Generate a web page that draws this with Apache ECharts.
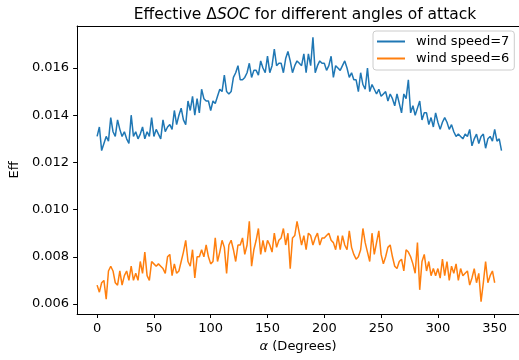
<!DOCTYPE html>
<html>
<head>
<meta charset="utf-8">
<script src="https://cdn.jsdelivr.net/npm/echarts@6/dist/echarts.min.js"></script>
<style>
  html, body { margin: 0; padding: 0; background: #fff; }
  #chart { width: 519px; height: 360px; }
</style>
</head>
<body>
<div id="chart"></div>
<script>
const angleStep = 2;

const windSpeed7 = [
  0.0131, 0.0135, 0.0125, 0.0128, 0.0131, 0.0129, 0.0139, 0.0133, 0.0131, 0.0138,
  0.0134, 0.0131, 0.0133, 0.0130, 0.0128, 0.0140, 0.0131, 0.0133, 0.0130, 0.0132,
  0.0135, 0.0130, 0.0133, 0.0131, 0.0139, 0.0131, 0.0134, 0.0132, 0.0130, 0.0138,
  0.0133, 0.0135, 0.0136, 0.0134, 0.0142, 0.0136, 0.0140, 0.0143, 0.0138, 0.0136,
  0.0146, 0.0142, 0.0148, 0.0140, 0.0147, 0.0141, 0.0151, 0.0147, 0.0146, 0.0146,
  0.0142, 0.0146, 0.0145, 0.0148, 0.0151, 0.0150, 0.0157, 0.0150, 0.0149, 0.0150,
  0.0156, 0.0158, 0.0161, 0.0155, 0.0155, 0.0156, 0.0158, 0.0162, 0.0156, 0.0159,
  0.0159, 0.0157, 0.0163, 0.0160, 0.0158, 0.0165, 0.0158, 0.0161, 0.0168, 0.0161,
  0.0162, 0.0162, 0.0158, 0.0164, 0.0167, 0.0163, 0.0158, 0.0161, 0.0163, 0.0162,
  0.0161, 0.0166, 0.0158, 0.0166, 0.0161, 0.0173, 0.0158, 0.0161, 0.0163, 0.0162,
  0.0162, 0.0159, 0.0161, 0.0165, 0.0156, 0.0161, 0.0160, 0.0159, 0.0161, 0.0163,
  0.0160, 0.0156, 0.0158, 0.0155, 0.0155, 0.0150, 0.0158, 0.0153, 0.0151, 0.0160,
  0.0150, 0.0153, 0.0151, 0.0149, 0.0151, 0.0148, 0.0149, 0.0150, 0.0146, 0.0149,
  0.0147, 0.0144, 0.0149, 0.0145, 0.0141, 0.0149, 0.0147, 0.0155, 0.0141, 0.0144,
  0.0140, 0.0143, 0.0146, 0.0138, 0.0141, 0.0141, 0.0136, 0.0139, 0.0135, 0.0141,
  0.0137, 0.0134, 0.0137, 0.0139, 0.0137, 0.0134, 0.0136, 0.0133, 0.0131, 0.0132,
  0.0131, 0.0130, 0.0132, 0.0131, 0.0134, 0.0127, 0.0130, 0.0132, 0.0128, 0.0131,
  0.0132, 0.0126, 0.0130, 0.0131, 0.0129, 0.0134, 0.0129, 0.0130, 0.0125
];

const windSpeed6 = [
  0.0068, 0.0065, 0.0069, 0.0070, 0.0062, 0.0074, 0.0076, 0.0074, 0.0069, 0.0068,
  0.0074, 0.0068, 0.0072, 0.0074, 0.0070, 0.0076, 0.0070, 0.0073, 0.0070, 0.0078,
  0.0073, 0.0082, 0.0072, 0.0070, 0.0078, 0.0077, 0.0076, 0.0077, 0.0076, 0.0075,
  0.0073, 0.0080, 0.0081, 0.0072, 0.0077, 0.0073, 0.0074, 0.0078, 0.0082, 0.0087,
  0.0078, 0.0076, 0.0083, 0.0071, 0.0080, 0.0080, 0.0083, 0.0080, 0.0085, 0.0080,
  0.0077, 0.0078, 0.0088, 0.0078, 0.0082, 0.0087, 0.0084, 0.0073, 0.0085, 0.0087,
  0.0083, 0.0078, 0.0085, 0.0085, 0.0088, 0.0081, 0.0085, 0.0095, 0.0076, 0.0083,
  0.0087, 0.0092, 0.0081, 0.0087, 0.0082, 0.0087, 0.0085, 0.0082, 0.0090, 0.0084,
  0.0087, 0.0088, 0.0092, 0.0085, 0.0090, 0.0075, 0.0088, 0.0089, 0.0095, 0.0090,
  0.0085, 0.0089, 0.0083, 0.0090, 0.0089, 0.0085, 0.0088, 0.0090, 0.0085, 0.0088,
  0.0088, 0.0089, 0.0090, 0.0087, 0.0086, 0.0083, 0.0089, 0.0083, 0.0089, 0.0085,
  0.0083, 0.0091, 0.0084, 0.0081, 0.0079, 0.0080, 0.0083, 0.0092, 0.0086, 0.0082,
  0.0078, 0.0090, 0.0081, 0.0086, 0.0091, 0.0081, 0.0077, 0.0080, 0.0084, 0.0085,
  0.0080, 0.0076, 0.0075, 0.0078, 0.0079, 0.0074, 0.0083, 0.0082, 0.0080, 0.0077,
  0.0073, 0.0086, 0.0066, 0.0078, 0.0081, 0.0074, 0.0078, 0.0072, 0.0075, 0.0072,
  0.0075, 0.0071, 0.0079, 0.0072, 0.0078, 0.0070, 0.0076, 0.0073, 0.0077, 0.0070,
  0.0075, 0.0072, 0.0073, 0.0074, 0.0068, 0.0071, 0.0075, 0.0069, 0.0073, 0.0061,
  0.0069, 0.0078, 0.0069, 0.0072, 0.0074, 0.0069
];

const xTicks = [0, 50, 100, 150, 200, 250, 300, 350];
const yTicks = [0.006, 0.008, 0.010, 0.012, 0.014, 0.016];

const font = 'DejaVu Sans';

function toPoints(values) {
  return values.map((v, i) => [i * angleStep, v]);
}

const chart = echarts.init(document.getElementById('chart'), null, { renderer: 'canvas' });

chart.setOption({
  animation: false,
  title: {
    text: '{n|Effective Δ}{i|SOC}{n| for different angles of attack}',
    left: 300,
    textAlign: 'center',
    top: 2,
    textStyle: {
      fontWeight: 'normal',
      rich: {
        n: { fontFamily: font, fontSize: 15.5, fontWeight: 'normal', color: '#000' },
        i: { fontFamily: font, fontSize: 15.5, fontWeight: 'normal', fontStyle: 'italic', color: '#000' },
      },
    },
  },
  legend: {
    orient: 'vertical',
    left: 373,
    top: 31,
    padding: [4, 5, 5, 4],
    itemGap: 4,
    itemWidth: 28,
    itemHeight: 2,
    icon: 'rect',
    backgroundColor: 'rgba(255,255,255,0.8)',
    borderColor: '#cccccc',
    borderWidth: 1,
    borderRadius: 3,
    textStyle: { fontFamily: font, fontSize: 13, color: '#000', padding: [0, 0, 0, 6] },
    data: ['wind speed=7', 'wind speed=6'],
  },
  grid: {
    left: 77,
    right: 0,
    top: 26,
    bottom: 46,
  },
  xAxis: [
    {
      type: 'value',
      min: -17.6,
      max: 371.4,
      name: '{i|α} (Degrees)',
      nameLocation: 'middle',
      nameGap: 26,
      nameTextStyle: {
        fontFamily: font,
        fontSize: 13,
        color: '#000',
        rich: {
          i: { fontFamily: font, fontSize: 13, fontStyle: 'italic', color: '#000' },
        },
      },
      axisLine: { show: true, onZero: false, lineStyle: { color: '#000', width: 1 } },
      axisTick: { show: true, length: 4, customValues: xTicks, lineStyle: { color: '#000' } },
      axisLabel: { customValues: xTicks, margin: 8, fontFamily: font, fontSize: 13, color: '#000' },
      splitLine: { show: false },
    },
    {
      // top spine only
      type: 'value',
      position: 'top',
      min: -17.6,
      max: 371.4,
      axisLine: { show: true, onZero: false, lineStyle: { color: '#000', width: 1 } },
      axisTick: { show: false },
      axisLabel: { show: false },
      splitLine: { show: false },
    },
  ],
  yAxis: {
    type: 'value',
    min: 0.005576,
    max: 0.01778,
    name: 'Eff',
    nameLocation: 'middle',
    nameGap: 54,
    nameTextStyle: { fontFamily: font, fontSize: 13, color: '#000' },
    axisLine: { show: true, onZero: false, lineStyle: { color: '#000', width: 1 } },
    axisTick: { show: true, length: 4, customValues: yTicks, lineStyle: { color: '#000' } },
    axisLabel: {
      customValues: yTicks,
      margin: 8,
      fontFamily: font,
      fontSize: 13,
      color: '#000',
      formatter: (v) => v.toFixed(3),
    },
    splitLine: { show: false },
  },
  series: [
    {
      name: 'wind speed=7',
      type: 'line',
      data: toPoints(windSpeed7),
      showSymbol: false,
      color: '#1f77b4',
      lineStyle: { width: 1.5, color: '#1f77b4' },
    },
    {
      name: 'wind speed=6',
      type: 'line',
      data: toPoints(windSpeed6),
      showSymbol: false,
      color: '#ff7f0e',
      lineStyle: { width: 1.5, color: '#ff7f0e' },
    },
  ],
});
</script>
</body>
</html>
